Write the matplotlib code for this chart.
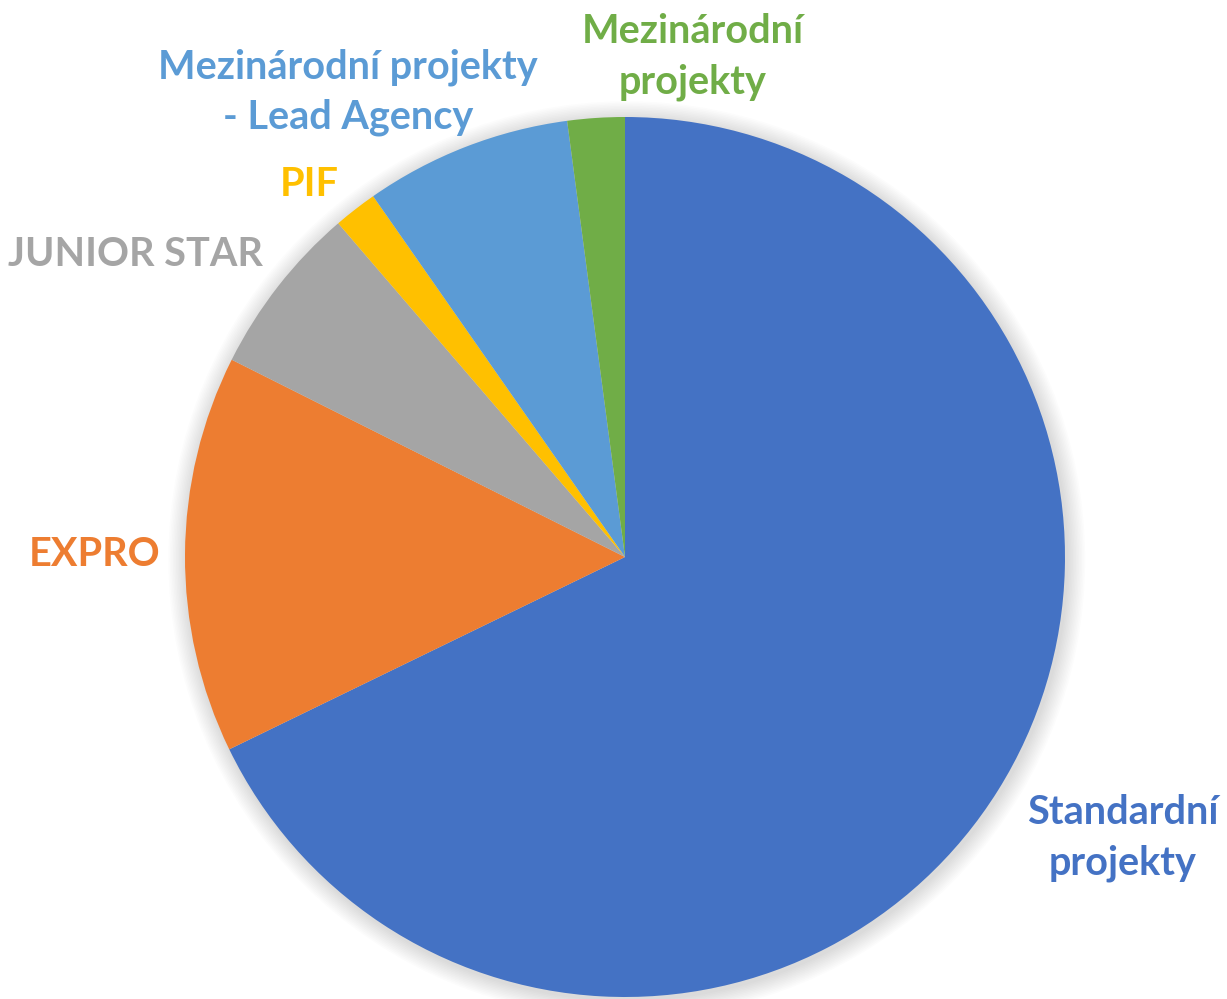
import matplotlib
matplotlib.use("Agg")
import matplotlib.pyplot as plt
from matplotlib.patches import Circle

labels = ["Standardní\nprojekty", "EXPRO", "JUNIOR STAR", "PIF",
          "Mezinárodní projekty\n- Lead Agency", "Mezinárodní\nprojekty"]
values = [67.8, 14.6, 6.3, 1.6, 7.6, 2.1]
colors = ["#4472C4", "#ED7D31", "#A5A5A5", "#FFC000", "#5B9BD5", "#70AD47"]
# label centers in pixel coords (x from left, y from top)
label_pos = [(1123, 838), (95, 555), (135, 254), (309, 185), (348, 92), (693, 57)]

W, H = 1227, 999
cx, cy, R = 625, 557, 440

fig = plt.figure(figsize=(W / 100, H / 100), dpi=100)
ax = fig.add_axes([0, 0, 1, 1])

# soft shadow
for i in range(12):
    ax.add_patch(Circle((0.004, -0.006), 1.0 + 0.0035 * (12 - i), color="black",
                        alpha=0.012, lw=0, zorder=0))

ax.pie(values, colors=colors, startangle=90, counterclock=False, radius=1.0,
       center=(0, 0), wedgeprops=dict(linewidth=0), frame=True)
ax.set_xlim(-cx / R, (W - cx) / R)
ax.set_ylim(-(H - cy) / R, cy / R)
ax.set_aspect("auto")
ax.axis("off")

for lab, col, (px, py) in zip(labels, colors, label_pos):
    ax.text(px / W, 1 - py / H, lab, transform=ax.transAxes, ha="center", va="center",
            color=col, fontsize=28.5, fontweight="bold", family="Lato",
            linespacing=1.42)

fig.savefig("out.png", dpi=100)
